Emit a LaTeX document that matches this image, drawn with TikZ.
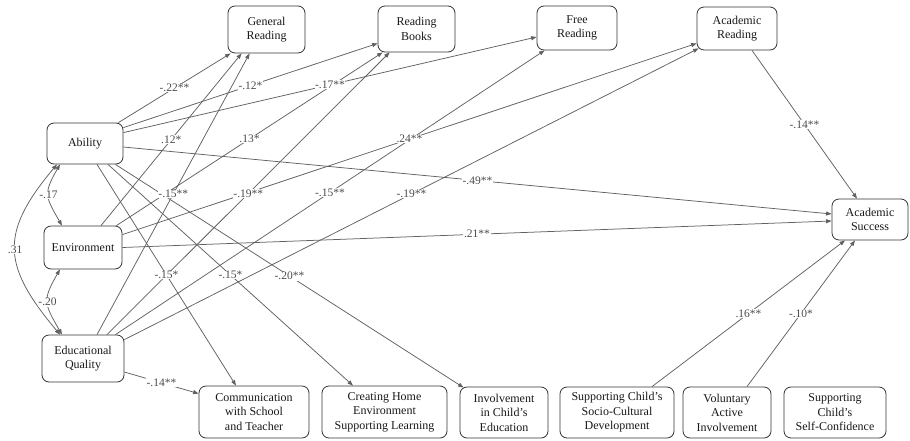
\documentclass[tikz,border=0pt]{standalone}
\usepackage{fontspec}
\setmainfont{Liberation Serif}
\usetikzlibrary{arrows.meta}
\begin{document}
\begin{tikzpicture}[x=1pt,y=1pt,
 box/.style={draw=black!80, rounded corners=7pt, line width=0.8pt, align=center, inner sep=0pt, text=black!90, font=\fontsize{12}{14.5}\selectfont},
 arr/.style={draw=black!62, line width=0.75pt, -{Triangle[length=5.5pt,width=4pt]}},
 cov/.style={draw=black!62, line width=0.75pt, {Triangle[length=5.5pt,width=4pt]}-{Triangle[length=5.5pt,width=4pt]}},
 lbl/.style={fill=white, inner sep=0.6pt, text=black!70, font=\fontsize{11.5}{13}\selectfont}]
\useasboundingbox (0,0) rectangle (910,-440);
\fill[white] (0,0) rectangle (910,-440);

% nodes
\node[box, minimum width=77pt, minimum height=47pt] (gr) at (266.5,-29.5) {General\\Reading};
\node[box, minimum width=77pt, minimum height=46pt] (rb) at (416.5,-29) {Reading\\Books};
\node[box, minimum width=80pt, minimum height=44pt] (fr) at (577,-28) {Free\\Reading};
\node[box, minimum width=80pt, minimum height=43pt] (ar) at (737,-28.5) {Academic\\Reading};
\node[box, minimum width=76pt, minimum height=41pt] (ab) at (85,-143.5) {Ability};
\node[box, minimum width=78pt, minimum height=43pt] (en) at (83,-247.5) {Environment};
\node[box, minimum width=82pt, minimum height=47pt] (eq) at (83,-358.5) {Educational\\Quality};
\node[box, minimum width=76pt, minimum height=41pt] (as) at (870,-219.5) {Academic\\Success};
\node[box, minimum width=110pt, minimum height=52pt] (cm) at (254,-412) {Communication\\with School\\and Teacher};
\node[box, minimum width=125pt, minimum height=52pt] (ch) at (384.5,-412) {Creating Home\\Environment\\Supporting Learning};
\node[box, minimum width=88pt, minimum height=51pt] (iv) at (504,-412.5) {Involvement\\in Child’s\\Education};
\node[box, minimum width=114pt, minimum height=51pt] (sc) at (617,-412.5) {Supporting Child’s\\Socio-Cultural\\Development};
\node[box, minimum width=88pt, minimum height=51pt] (va) at (727,-412.5) {Voluntary\\Active\\Involvement};
\node[box, minimum width=102pt, minimum height=51pt] (ss) at (835,-412.5) {Supporting\\Child’s\\Self-Confidence};

% paths
\draw[arr] ([xshift=-5pt]ab.north east) -- coordinate[pos=0.5] (l1) ([xshift=3pt]gr.south west);
\draw[arr] ([yshift=-5pt]ab.north east) -- coordinate[pos=0.5] (l2) ([yshift=9pt]rb.south west);
\draw[arr] ([yshift=-10pt]ab.north east) -- coordinate[pos=0.5] (l3) ([yshift=-9pt]fr.west);
\draw[arr] ([yshift=-3.5pt]ab.east) -- coordinate[pos=0.5] (l4) ([yshift=5.5pt]as.west);
\draw[arr] ([xshift=12pt]ab.south) -- coordinate[pos=0.5] (l5) ([xshift=-18pt]cm.north);
\draw[arr] ([xshift=23pt]ab.south) -- coordinate[pos=0.5] (l6) ([xshift=-31.5pt]ch.north);
\draw[arr] ([xshift=-8pt]ab.south east) -- coordinate[pos=0.5] (l7) ([xshift=4pt,yshift=-1pt]iv.north west);
\draw[arr] ([xshift=18pt]en.north) -- coordinate[pos=0.5] (l8) ([xshift=14pt]gr.south west);
\draw[arr] ([xshift=-6pt]en.north east) -- coordinate[pos=0.5] (l9) ([xshift=5pt]rb.south west);
\draw[arr] ([yshift=-9pt]en.north east) -- coordinate[pos=0.5] (l10) ([yshift=7pt]ar.south west);
\draw[arr] (en.east) -- coordinate[pos=0.5] (l11) ([yshift=-1.5pt]as.west);
\draw[arr] ([xshift=14pt]eq.north) -- coordinate[pos=0.5] (l12) ([xshift=22pt]gr.south west);
\draw[arr] ([xshift=24pt]eq.north) -- coordinate[pos=0.5] (l13) ([xshift=12pt]rb.south west);
\draw[arr] ([xshift=-9pt]eq.north east) -- coordinate[pos=0.5] (l14) ([xshift=8pt]fr.south west);
\draw[arr] ([yshift=-5pt]eq.north east) -- coordinate[pos=0.5] (l15) ([xshift=2pt,yshift=2pt]ar.south west);
\draw[arr] ([yshift=-13.5pt]eq.east) -- coordinate[pos=0.5] (l16) ([yshift=-8pt]cm.north west);
\draw[arr] ([xshift=15pt]ar.south) -- coordinate[pos=0.5] (l17) ([xshift=-13pt]as.north);
\draw[arr] ([xshift=35pt]sc.north) -- coordinate[pos=0.5] (l18) ([xshift=-25pt]as.south);
\draw[arr] ([xshift=20pt]va.north) -- coordinate[pos=0.5] (l19) ([xshift=-15pt]as.south);

% covariances
\draw[cov] ([xshift=-25pt]ab.south) to[out=-120,in=120,looseness=1.4] coordinate[pos=0.5] (c1) ([xshift=-21pt]en.north);
\draw[cov] ([xshift=-23pt]en.south) to[out=-120,in=120,looseness=1.4] coordinate[pos=0.5] (c2) ([xshift=-21pt]eq.north);
\draw[cov] ([xshift=-28pt]ab.south) to[out=-130,in=130,looseness=1.35] coordinate[pos=0.5] (c3) ([xshift=-23pt]eq.north);

% labels
\node[lbl] at (l1) {-.22**};
\node[lbl] at (l2) {-.12*};
\node[lbl] at (l3) {-.17**};
\node[lbl] at (l4) {-.49**};
\node[lbl] at (l5) {-.15*};
\node[lbl] at (l6) {-.15*};
\node[lbl] at (l7) {-.20**};
\node[lbl] at (l8) {.12*};
\node[lbl] at (l9) {.13*};
\node[lbl] at (l10) {.24**};
\node[lbl] at (l11) {.21**};
\node[lbl] at (l12) {-.15**};
\node[lbl] at (l13) {-.19**};
\node[lbl] at (l14) {-.15**};
\node[lbl] at (l15) {-.19**};
\node[lbl] at (l16) {-.14**};
\node[lbl] at (l17) {-.14**};
\node[lbl] at (l18) {.16**};
\node[lbl] at (l19) {-.10*};
\node[lbl] at (c1) {-.17};
\node[lbl] at (c2) {-.20};
\node[lbl] at (c3) {.31};
\end{tikzpicture}
\end{document}
